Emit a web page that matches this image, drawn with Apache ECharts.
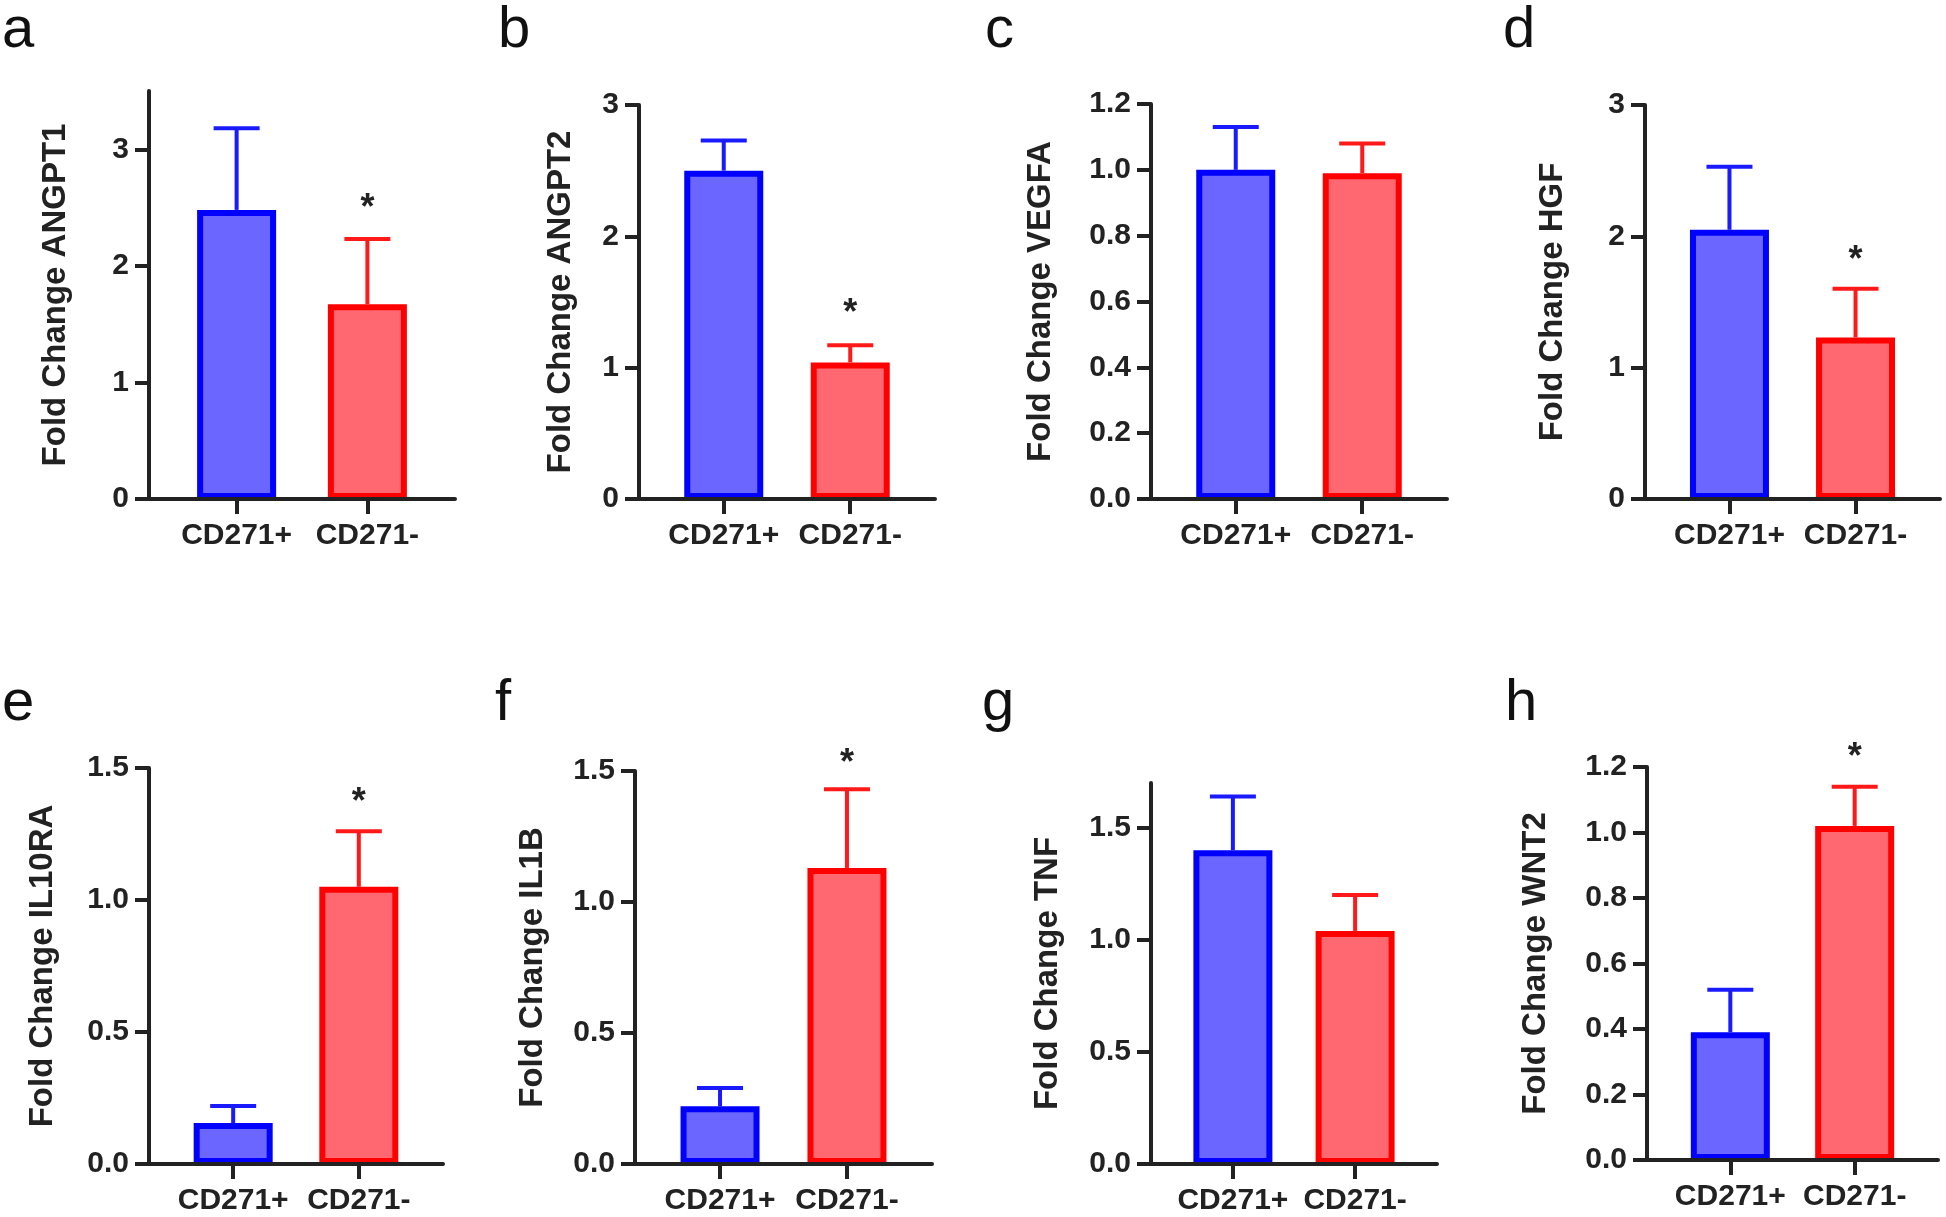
<!DOCTYPE html>
<html>
<head>
<meta charset="utf-8">
<title>Fold change CD271+ vs CD271-</title>
<script src="https://cdn.jsdelivr.net/npm/echarts@6/dist/echarts.min.js"></script>
<style>
  html, body { margin: 0; padding: 0; background: #fff; }
  #main { width: 1946px; height: 1217px; }
</style>
</head>
<body>
<div id="main"></div>
<script>
// x axis groups
const groups = ['CD271+', 'CD271-'];
const panels = ['a', 'b', 'c', 'd', 'e', 'f', 'g', 'h'];
const genes = ['ANGPT1', 'ANGPT2', 'VEGFA', 'HGF', 'IL10RA', 'IL1B', 'TNF', 'WNT2'];
// bar heights (mean fold change)
const plusMean  = [2.48, 2.50, 1.00, 2.05, 0.155, 0.22, 1.40, 0.39];
const minusMean = [1.67, 1.04, 0.99, 1.23, 1.05, 1.13, 1.04, 1.02];
// top of the error bars
const plusUpper  = [3.18, 2.73, 1.13, 2.53, 0.22, 0.29, 1.64, 0.52];
const minusUpper = [2.23, 1.17, 1.08, 1.60, 1.26, 1.43, 1.20, 1.14];
// height of the * over CD271- (null = no star)
const starAt = [2.56, 1.48, null, 1.88, 1.40, 1.56, null, 1.255];
// y axes
const yMax = [3.5, 3, 1.2, 3, 1.5, 1.5, 1.7, 1.2];
const yTicks = [
  [0, 1, 2, 3],
  [0, 1, 2, 3],
  [0, 0.2, 0.4, 0.6, 0.8, 1.0, 1.2],
  [0, 1, 2, 3],
  [0, 0.5, 1.0, 1.5],
  [0, 0.5, 1.0, 1.5],
  [0, 0.5, 1.0, 1.5],
  [0, 0.2, 0.4, 0.6, 0.8, 1.0, 1.2]
];
const yDigits = [0, 0, 1, 0, 1, 1, 1, 1];

// layout: plot boxes [left, top, width, height], y name gap, letter position
const boxes = [
  [149, 91, 306, 408], [639, 105, 296, 394], [1151, 104, 296, 395], [1645, 105, 295, 394],
  [149, 768, 294, 396], [635, 771, 297, 393], [1151, 783, 286, 381], [1647, 767, 291, 393]
];
const nameGaps = [77, 62, 94, 76, 90, 86, 87, 95];
const letterPos = [[2, 2], [498, 2], [985, 2], [1503, 2], [2, 675], [495, 675], [982, 675], [1505, 675]];

const font = '"Liberation Sans", Arial, Helvetica, sans-serif';
const ink = '#222';
const fill = ['#6b66ff', '#ff6870'];
const edge = ['#0000ff', '#ff0000'];
const errColor = ['#1a1aff', '#ff1a1a'];

function renderErr(params, api) {
  const x = api.value(0);
  const base = api.coord([x, api.value(1)]);
  const top = api.coord([x, api.value(2)]);
  const c = errColor[api.value(3)];
  return {
    type: 'group',
    children: [
      { type: 'line', shape: { x1: base[0], y1: base[1], x2: top[0], y2: top[1] }, style: { stroke: c, lineWidth: 4 } },
      { type: 'line', shape: { x1: top[0] - 23, y1: top[1], x2: top[0] + 23, y2: top[1] }, style: { stroke: c, lineWidth: 4 } }
    ]
  };
}

function renderStar(params, api) {
  const p = api.coord([api.value(0), api.value(1)]);
  return {
    type: 'text',
    x: p[0], y: p[1] + 9,
    style: { text: '*', fill: ink, fontSize: 36, fontWeight: 'bold', fontFamily: font, align: 'center', verticalAlign: 'middle' }
  };
}

const grid = [], xAxis = [], yAxis = [], series = [], title = [];
panels.forEach((p, i) => {
  const b = boxes[i];
  grid.push({ left: b[0], top: b[1], width: b[2], height: b[3] });
  title.push({
    text: p, left: letterPos[i][0], top: letterPos[i][1], padding: 0,
    textStyle: { fontSize: 58, fontWeight: 'normal', color: '#111', fontFamily: font }
  });
  xAxis.push({
    type: 'value', gridIndex: i, min: 0.33, max: 2.67, z: 5,
    splitLine: { show: false },
    axisLine: { show: true, onZero: false, lineStyle: { color: ink, width: 4 } },
    axisTick: { show: true, customValues: [1, 2], length: 15, lineStyle: { color: ink, width: 4 } },
    axisLabel: {
      customValues: [1, 2], margin: 22, color: ink, fontSize: 30, fontWeight: 'bold', fontFamily: font,
      formatter: v => groups[Math.round(v) - 1]
    }
  });
  yAxis.push({
    type: 'value', gridIndex: i, min: 0, max: yMax[i], z: 5,
    name: 'Fold Change ' + genes[i], nameLocation: 'middle', nameGap: nameGaps[i],
    nameTextStyle: { color: ink, fontSize: 33, fontWeight: 'bold', fontFamily: font },
    splitLine: { show: false },
    axisLine: { show: true, onZero: false, lineStyle: { color: ink, width: 4 } },
    axisTick: { show: true, customValues: yTicks[i], length: 14, lineStyle: { color: ink, width: 4 } },
    axisLabel: {
      customValues: yTicks[i], margin: 20, color: ink, fontSize: 30, fontWeight: 'bold', fontFamily: font,
      formatter: v => Number(v).toFixed(yDigits[i])
    }
  });
  series.push({
    type: 'bar', xAxisIndex: i, yAxisIndex: i, barWidth: 79, silent: true,
    data: [
      { value: [1, plusMean[i]], itemStyle: { color: fill[0], borderColor: edge[0], borderWidth: 6 } },
      { value: [2, minusMean[i]], itemStyle: { color: fill[1], borderColor: edge[1], borderWidth: 6 } }
    ]
  });
  series.push({
    type: 'custom', xAxisIndex: i, yAxisIndex: i, z: 4, silent: true,
    renderItem: renderErr,
    data: [[1, plusMean[i], plusUpper[i], 0], [2, minusMean[i], minusUpper[i], 1]]
  });
  if (starAt[i] != null) {
    series.push({
      type: 'custom', xAxisIndex: i, yAxisIndex: i, z: 4, silent: true, clip: false,
      renderItem: renderStar,
      data: [[2, starAt[i]]]
    });
  }
});

const chart = echarts.init(document.getElementById('main'));
chart.setOption({
  backgroundColor: '#fff',
  animation: false,
  title: title,
  grid: grid,
  xAxis: xAxis,
  yAxis: yAxis,
  series: series
});
</script>
</body>
</html>
